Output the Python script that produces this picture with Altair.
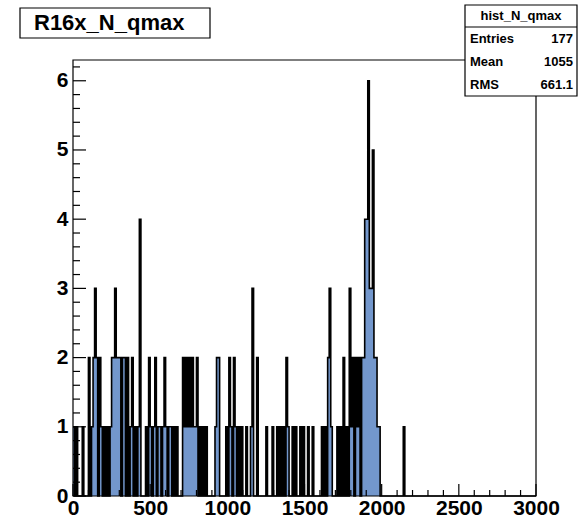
import altair as alt
import pandas as pd

# ---------------- data ----------------
bin_width = 10
x_min, x_max = 0, 3000
# counts per 10-wide bin, starting at 0 (bins beyond are empty)
counts_head = [
    1, 0, 1, 0, 0, 0, 1, 0, 0, 0,          # 0-99
    2, 0, 1, 2, 3, 2, 0, 2, 1, 0,          # 100-199
    1, 0, 1, 0, 1, 2, 2, 3, 2, 2,          # 200-299
    2, 0, 2, 2, 0, 2, 0, 1, 2, 0,          # 300-399
    1, 0, 1, 4, 0, 0, 0, 1, 0, 2,          # 400-499
    1, 0, 1, 2, 0, 1, 1, 0, 1, 2,          # 500-599
    1, 0, 1, 1, 0, 1, 0, 1, 0, 0,          # 600-699
    0, 2, 1, 2, 1, 2, 1, 2, 1, 1,          # 700-799
    2, 0, 1, 0, 1, 0, 1, 0, 0, 0,          # 800-899
    0, 0, 1, 2, 2, 0, 0, 0, 0, 1,          # 900-999
    0, 2, 1, 0, 2, 1, 0, 1, 0, 1,          # 1000-1099
    0, 0, 1, 0, 0, 1, 3, 0, 0, 2,          # 1100-1199
    0, 0, 0, 0, 0, 1, 0, 0, 0, 1,          # 1200-1299
    0, 0, 1, 0, 1, 0, 1, 0, 2, 1,          # 1300-1399
    0, 0, 1, 0, 1, 0, 0, 1, 0, 1,          # 1400-1499
    0, 0, 1, 0, 0, 1, 0, 0, 0, 0,          # 1500-1599
    0, 1, 0, 1, 0, 2, 3, 1, 0, 0,          # 1600-1699
    0, 1, 0, 1, 0, 2, 0, 1, 0, 3,          # 1700-1799
    1, 2, 0, 2, 1, 2, 0, 2, 2, 4,          # 1800-1899
    4, 6, 3, 3, 5, 2, 2, 1, 1, 0,          # 1900-1999
    0, 0, 0, 0, 0, 0, 0, 0, 0, 0,          # 2000-2099
    0, 0, 0, 0, 1, 0,                      # 2100-2159
]
n_bins = (x_max - x_min) // bin_width
counts = counts_head + [0] * (n_bins - len(counts_head))
bin_lo = [x_min + i * bin_width for i in range(n_bins)]

x_label_values = [0, 500, 1000, 1500, 2000, 2500, 3000]
x_minor_values = [v for v in range(0, 3001, 100) if v % 500 != 0]
y_label_values = [0, 1, 2, 3, 4, 5, 6]
y_minor_values = [round(i * 0.2, 1) for i in range(0, 32) if i % 5 != 0]
y_max = 6.3

title_text = "R16x_N_qmax"
stats_name = "hist_N_qmax"
stats_labels = ["Entries", "Mean", "RMS"]
stats_values = ["177", "1055", "661.1"]

# ---------------- layout ----------------
W, H = 463, 436
FONT = "Liberation Sans"
FILL = "#7397CC"

hist_df = pd.DataFrame({
    "x": bin_lo + [x_max],
    "y": counts + [counts[-1]],
})

xs = alt.Scale(domain=[x_min, x_max], nice=False, zero=False)
ys = alt.Scale(domain=[0, y_max], nice=False)

x_axis = alt.Axis(values=x_label_values, ticks=False, domain=False, grid=False,
                  labelFont=FONT, labelFontSize=21, labelFontWeight="bold",
                  labelColor="black", labelPadding=1, labelFlush=False,
                  labelOverlap=False, title=None, format="d")
y_axis = alt.Axis(values=y_label_values, ticks=False, domain=False, grid=False,
                  labelFont=FONT, labelFontSize=21, labelFontWeight="bold",
                  labelColor="black", labelPadding=5, labelOverlap=False,
                  title=None, format="d")

base = alt.Chart(hist_df)
area = base.mark_area(interpolate="step-after", color=FILL, opacity=1).encode(
    x=alt.X("x:Q", scale=xs, axis=x_axis),
    y=alt.Y("y:Q", scale=ys, axis=y_axis),
)
outline = base.mark_line(interpolate="step-after", color="black",
                         strokeWidth=1.6).encode(
    x=alt.X("x:Q", scale=xs),
    y=alt.Y("y:Q", scale=ys),
)

one = pd.DataFrame({"k": [0]})
frame = alt.Chart(one).mark_rect(fill=None, stroke="black", strokeWidth=1.2).encode(
    x=alt.value(0), x2=alt.value(W), y=alt.value(0), y2=alt.value(H))

xmaj = alt.Chart(pd.DataFrame({"v": x_label_values})).mark_rule(
    color="black", strokeWidth=1.2).encode(
    x=alt.X("v:Q", scale=xs), y=alt.value(H), y2=alt.value(H - 12))
xmin_ = alt.Chart(pd.DataFrame({"v": x_minor_values})).mark_rule(
    color="black", strokeWidth=1.2).encode(
    x=alt.X("v:Q", scale=xs), y=alt.value(H), y2=alt.value(H - 6))
ymaj = alt.Chart(pd.DataFrame({"v": y_label_values})).mark_rule(
    color="black", strokeWidth=1.2).encode(
    y=alt.Y("v:Q", scale=ys), x=alt.value(0), x2=alt.value(13))
ymin_ = alt.Chart(pd.DataFrame({"v": y_minor_values})).mark_rule(
    color="black", strokeWidth=1.2).encode(
    y=alt.Y("v:Q", scale=ys), x=alt.value(0), x2=alt.value(7))

# title box (pixel offsets relative to plot origin at 73,60)
tbox = alt.Chart(one).mark_rect(fill="white", stroke="black", strokeWidth=1.2).encode(
    x=alt.value(-53), x2=alt.value(137), y=alt.value(-52), y2=alt.value(-22))
ttext = alt.Chart(pd.DataFrame({"t": [title_text]})).mark_text(
    font=FONT, fontSize=22, fontWeight="bold", align="left", baseline="middle",
    color="black").encode(x=alt.value(-39), y=alt.value(-37), text="t:N")

# stats box
sbox = alt.Chart(one).mark_rect(fill="white", stroke="black", strokeWidth=1.2).encode(
    x=alt.value(392), x2=alt.value(504), y=alt.value(-55), y2=alt.value(36))
sline = alt.Chart(one).mark_rule(color="black", strokeWidth=1.2).encode(
    x=alt.value(392), x2=alt.value(504), y=alt.value(-33))
sname = alt.Chart(pd.DataFrame({"t": [stats_name]})).mark_text(
    font=FONT, fontSize=13, fontWeight="bold", align="center", baseline="middle",
    color="black").encode(x=alt.value(448), y=alt.value(-44), text="t:N")

row_y = [-21, 2, 25]
stat_layers = []
for lab, val, yy in zip(stats_labels, stats_values, row_y):
    d = pd.DataFrame({"lab": [lab], "val": [val]})
    stat_layers.append(alt.Chart(d).mark_text(
        font=FONT, fontSize=13, fontWeight="bold", align="left", baseline="middle",
        color="black").encode(x=alt.value(397), y=alt.value(yy), text="lab:N"))
    stat_layers.append(alt.Chart(d).mark_text(
        font=FONT, fontSize=13, fontWeight="bold", align="right", baseline="middle",
        color="black").encode(x=alt.value(500), y=alt.value(yy), text="val:N"))

chart = alt.layer(
    area, outline, frame, xmaj, xmin_, ymaj, ymin_,
    tbox, ttext, sbox, sline, sname, *stat_layers,
).properties(
    width=W, height=H,
    padding={"left": 73, "top": 60, "right": 51, "bottom": 26},
    autosize=alt.AutoSizeParams(type="none"),
    background="white",
).configure_view(stroke=None)

chart.save("out.html", embed_options={"renderer": "svg", "actions": False})
